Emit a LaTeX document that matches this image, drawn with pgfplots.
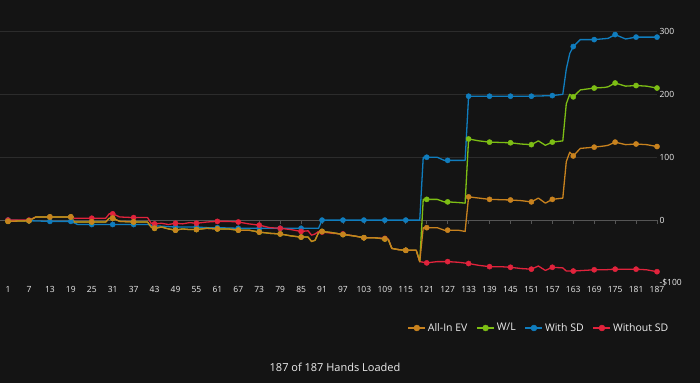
\documentclass[border=0pt]{standalone}
\usepackage{pgfplots}
\usepackage{pgfplotstable}
\pgfplotsset{compat=1.18}
\usepackage{fontspec}
\setmainfont{Open Sans}
\definecolor{bg}{HTML}{141414}
\definecolor{cOrange}{HTML}{C8821E}
\definecolor{cGreen}{HTML}{7DBE14}
\definecolor{cBlue}{HTML}{107DBE}
\definecolor{cRed}{HTML}{E1233C}
\definecolor{gridc}{HTML}{2C2C2C}
\definecolor{zeroc}{HTML}{555555}
\definecolor{txt}{HTML}{EDEDED}

\pgfplotstableread{
x y
1 -2
7 -1
9 5
13 5
19 5
20 -3
25 -3
29 -3
30 3
31 3
33 -2
37 -3
41 -3
42 -11
43 -13
45 -11
47 -14
49 -16
51 -14
53 -15
55 -15
58 -13
61 -14
64 -14
67 -16
70 -16
73 -19
76 -21
79 -22
82 -25
85 -27
87 -27
88 -34
89 -32
90 -20
91 -18
94 -20
97 -23
100 -25
103 -28
106 -28
109 -30
110 -31
111 -45
113 -47
115 -48
118 -48
119 -66
120 -12
121 -12
124 -12
126 -16
127 -16
130 -16
132 -18
133 37
136 35
139 33
145 32
148 31
151 29
153 35
155 27
157 33
160 35
161 93
162 108
163 102
165 114
169 116
172 118
173 119
175 124
178 120
181 121
184 120
187 117
}\orangeT

\pgfplotstableread{
x y
1 -2
7 -1
9 5
13 5
19 5
20 -3
25 -3
29 -3
30 3
31 3
33 -2
37 -3
41 -3
42 -11
43 -13
45 -11
47 -14
49 -16
51 -14
53 -15
55 -15
58 -13
61 -14
64 -14
67 -16
70 -16
73 -19
76 -21
79 -22
82 -25
85 -27
87 -27
88 -34
89 -32
90 -20
91 -18
94 -20
97 -23
100 -25
103 -28
106 -28
109 -30
110 -31
111 -45
113 -47
115 -48
118 -48
119 -66
120 33
121 33
124 33
126 29
127 29
130 28
132 27
133 129
136 126
139 124
145 123
148 121
151 120
153 126
155 119
157 124
160 126
161 185
162 200
163 196
165 207
169 210
172 211
173 212
175 218
178 213
181 214
184 213
187 210
}\greenT

\pgfplotstableread{
x y
1 0
7 -1
13 -2
19 -2
21 -7
25 -7
31 -7
37 -7
41 -7
43 -9
49 -11
55 -11
58 -12
61 -12
67 -13
73 -13
79 -13
85 -13
90 -13
91 0
97 0
103 0
109 0
115 0
119 0
120 100
121 100
124 100
126 95
127 95
130 95
132 95
133 197
139 197
145 197
151 197
157 198
160 200
161 240
162 265
163 276
165 287
169 287
173 289
175 295
178 288
181 291
184 291
187 291
}\blueT

\pgfplotstableread{
x y
1 0
7 0
9 5
13 5
19 5
20 3
25 3
29 3
30 10
31 10
33 5
37 4
41 4
42 -5
43 -6
45 -5
47 -7
49 -5
51 -6
53 -4
55 -5
58 -3
61 -2
64 -2
67 -3
70 -6
73 -8
76 -12
79 -13
82 -15
85 -18
87 -17
88 -24
89 -22
90 -18
91 -19
94 -21
97 -22
100 -25
103 -28
106 -28
109 -29
110 -30
111 -45
113 -47
115 -48
118 -48
119 -66
121 -68
124 -66
127 -66
130 -67
133 -69
136 -72
139 -74
142 -74
145 -75
148 -77
151 -78
153 -73
155 -80
157 -75
160 -76
161 -81
163 -81
166 -80
169 -79
172 -79
175 -78
178 -78
181 -78
184 -79
187 -82
}\redT

\pgfplotsset{
  lineS/.style={line width=1.3pt, line join=round, no markers},
  markS/.style={only marks, mark=*, mark size=2.6pt, forget plot,
    x filter/.expression={abs(mod(x-1,6))<0.01 ? x : nan}},
}

\begin{document}
\begin{tikzpicture}
\fill[bg] (0pt,0pt) rectangle (700pt,-383pt);
\begin{axis}[
  at={(0pt,0pt)}, anchor=north west,
  scale only axis, width=657pt, height=283pt,
  xmin=-1.3, xmax=187, ymin=-100, ymax=350,
  axis line style={draw=none},
  tick style={draw=none},
  xtick={1,7,...,187},
  ytick={-100,0,100,200,300},
  yticklabels={-\$100,0,100,200,300},
  yticklabel pos=right,
  extra y ticks={100,200,300},
  extra y tick labels={},
  extra y tick style={grid=major, major grid style={color=gridc, line width=0.8pt}},
  /pgf/number format/assume math mode=true,
  xticklabel style={font=\fontsize{8.5}{10}\selectfont, text=txt},
  yticklabel style={font=\fontsize{8.5}{10}\selectfont, text=txt, anchor=west, xshift=-1pt},
  clip=false,
  legend columns=4,
  legend style={at={(1.025,-0.159)}, anchor=east, draw=none, fill=none,
    text=txt, font=\fontsize{10.5}{12}\selectfont,
    /tikz/every even column/.append style={column sep=7pt}},
  legend image code/.code={
    \draw[#1, line width=1.3pt] (0pt,0pt) -- (17pt,0pt);
    \fill[#1] (8.5pt,0pt) circle (3pt);
  },
]
\addlegendimage{color=cOrange}\addlegendentry{All-In EV}
\addlegendimage{color=cGreen}\addlegendentry{W/L}
\addlegendimage{color=cBlue}\addlegendentry{With SD}
\addlegendimage{color=cRed}\addlegendentry{Without SD}

\draw[zeroc, line width=0.8pt] (axis cs:-1.3,0) -- (axis cs:187,0);
\pgfplotsinvokeforeach{1,7,13,19,25,31,37,43,49,55,61,67,73,79,85,91,97,103,109,115,121,127,133,139,145,151,157,163,169,175,181,187}{
  \draw[zeroc, line width=0.8pt] (axis cs:#1,0) -- ++(0pt,-4pt);
}

\addplot[color=cBlue, lineS, forget plot] table {\blueT};
\addplot[color=cBlue, markS] table {\blueT};
\addplot[color=cRed, lineS, forget plot] table {\redT};
\addplot[color=cRed, markS] table {\redT};
\addplot[color=cGreen, lineS, forget plot] table {\greenT};
\addplot[color=cGreen, markS] table {\greenT};
\addplot[color=cOrange, lineS, forget plot] table {\orangeT};
\addplot[color=cOrange, markS] table {\orangeT};
\end{axis}
\node[text=txt, font=\fontsize{11}{13}\selectfont] at (335pt,-367pt) {187 of 187 Hands Loaded};
\pgfresetboundingbox
\useasboundingbox (0pt,0pt) rectangle (700pt,-383pt);
\end{tikzpicture}
\end{document}
